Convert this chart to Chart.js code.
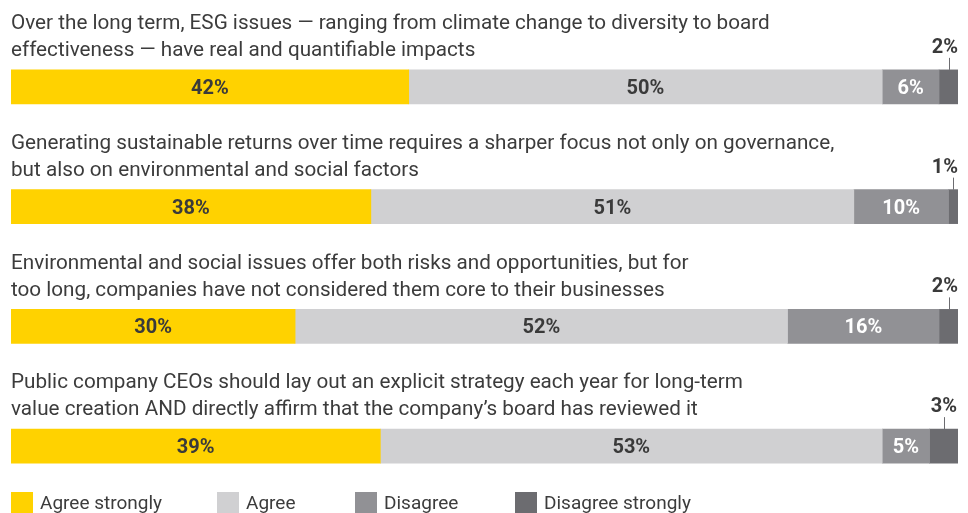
<!DOCTYPE html>
<html>
<head>
<meta charset="utf-8">
<script src="https://cdn.jsdelivr.net/npm/chart.js@4"></script>
<style>
  body { margin: 0; background: #fff; }
  #wrap { width: 968px; height: 513px; }
</style>
</head>
<body>
<div id="wrap"><canvas id="esg_chart" width="968" height="513"></canvas></div>
<script>
// statements (two lines each, as in the original layout)
const questions = [
    ['Over the long term, ESG issues \u2014 ranging from climate change to diversity to board',
     'effectiveness \u2014 have real and quantifiable impacts'],
    ['Generating sustainable returns over time requires a sharper focus not only on governance,',
     'but also on environmental and social factors'],
    ['Environmental and social issues offer both risks and opportunities, but for',
     'too long, companies have not considered them core to their businesses'],
    ['Public company CEOs should lay out an explicit strategy each year for long-term',
     'value creation AND directly affirm that the company\u2019s board has reviewed it']
];

const series_names = ['Agree strongly', 'Agree', 'Disagree', 'Disagree strongly'];
const agree_strongly = [42, 38, 30, 39];
const agree = [50, 51, 52, 53];
const disagree = [6, 10, 16, 5];
const disagree_strongly = [2, 1, 2, 3];

const colours = ['#ffd200', '#d0d0d2', '#919195', '#6c6c70'];
const label_colours = ['#3a3a3a', '#3a3a3a', '#ffffff', '#3a3a3a'];
const FONT = 'Roboto, "Open Sans", sans-serif';

// draws the statement text, value labels and legend
const textPlugin = {
    id: 'textPlugin',
    afterDatasetsDraw(chart) {
        const ctx = chart.ctx;
        const area = chart.chartArea;
        ctx.save();

        // statements above each bar
        ctx.fillStyle = '#3c3c3c';
        ctx.font = '20.7px ' + FONT;
        ctx.textAlign = 'left';
        ctx.textBaseline = 'middle';
        questions.forEach(function (lines, i) {
            var bar = chart.getDatasetMeta(0).data[i];
            var top = bar.y - bar.height / 2;
            ctx.fillText(lines[0], area.left, top - 46);
            ctx.fillText(lines[1], area.left, top - 19);
        });

        // value labels
        ctx.font = 'bold 20px ' + FONT;
        ctx.textAlign = 'center';
        chart.data.datasets.forEach(function (ds, d) {
            var meta = chart.getDatasetMeta(d);
            meta.data.forEach(function (bar, i) {
                var txt = ds.data[i] + '%';
                var cx = (bar.x + bar.base) / 2;
                ctx.fillStyle = label_colours[d];
                if (d < 3) {
                    ctx.fillText(txt, cx, bar.y + 2);
                } else {
                    // small segment: label above the bar with a tick
                    var top = bar.y - bar.height / 2;
                    var w = ctx.measureText(txt).width;
                    var lx = Math.min(cx, area.right - w / 2);
                    ctx.fillText(txt, lx, top - 22);
                    ctx.strokeStyle = '#6c6c70';
                    ctx.lineWidth = 1;
                    ctx.beginPath();
                    ctx.moveTo(Math.round(cx) + 0.5, top - 12);
                    ctx.lineTo(Math.round(cx) + 0.5, top);
                    ctx.stroke();
                }
            });
        });

        // legend along the bottom
        var legend_x = [11, 217, 355, 515];
        ctx.font = '19px ' + FONT;
        ctx.textAlign = 'left';
        series_names.forEach(function (name, i) {
            ctx.fillStyle = colours[i];
            ctx.fillRect(legend_x[i], 492, 22, 21);
            ctx.fillStyle = '#3c3c3c';
            ctx.fillText(name, legend_x[i] + 29, 504);
        });
        ctx.restore();
    }
};

var series = [agree_strongly, agree, disagree, disagree_strongly];
var datasets = series.map(function (vals, i) {
    return {
        label: series_names[i],
        data: vals,
        backgroundColor: colours[i],
        borderWidth: 0,
        barThickness: 34
    };
});

var canvas = document.getElementById('esg_chart');
new Chart(canvas, {
    type: 'bar',
    data: { labels: questions.map(function (q) { return q[0]; }), datasets: datasets },
    options: {
        indexAxis: 'y',
        responsive: false,
        animation: false,
        layout: { padding: { left: 11, right: 10, top: 27, bottom: 7 } },
        scales: {
            x: { stacked: true, min: 0, max: 100, display: false },
            y: { stacked: true, display: false }
        },
        plugins: {
            legend: { display: false },
            tooltip: { enabled: false }
        }
    },
    plugins: [textPlugin]
});
</script>
</body>
</html>
